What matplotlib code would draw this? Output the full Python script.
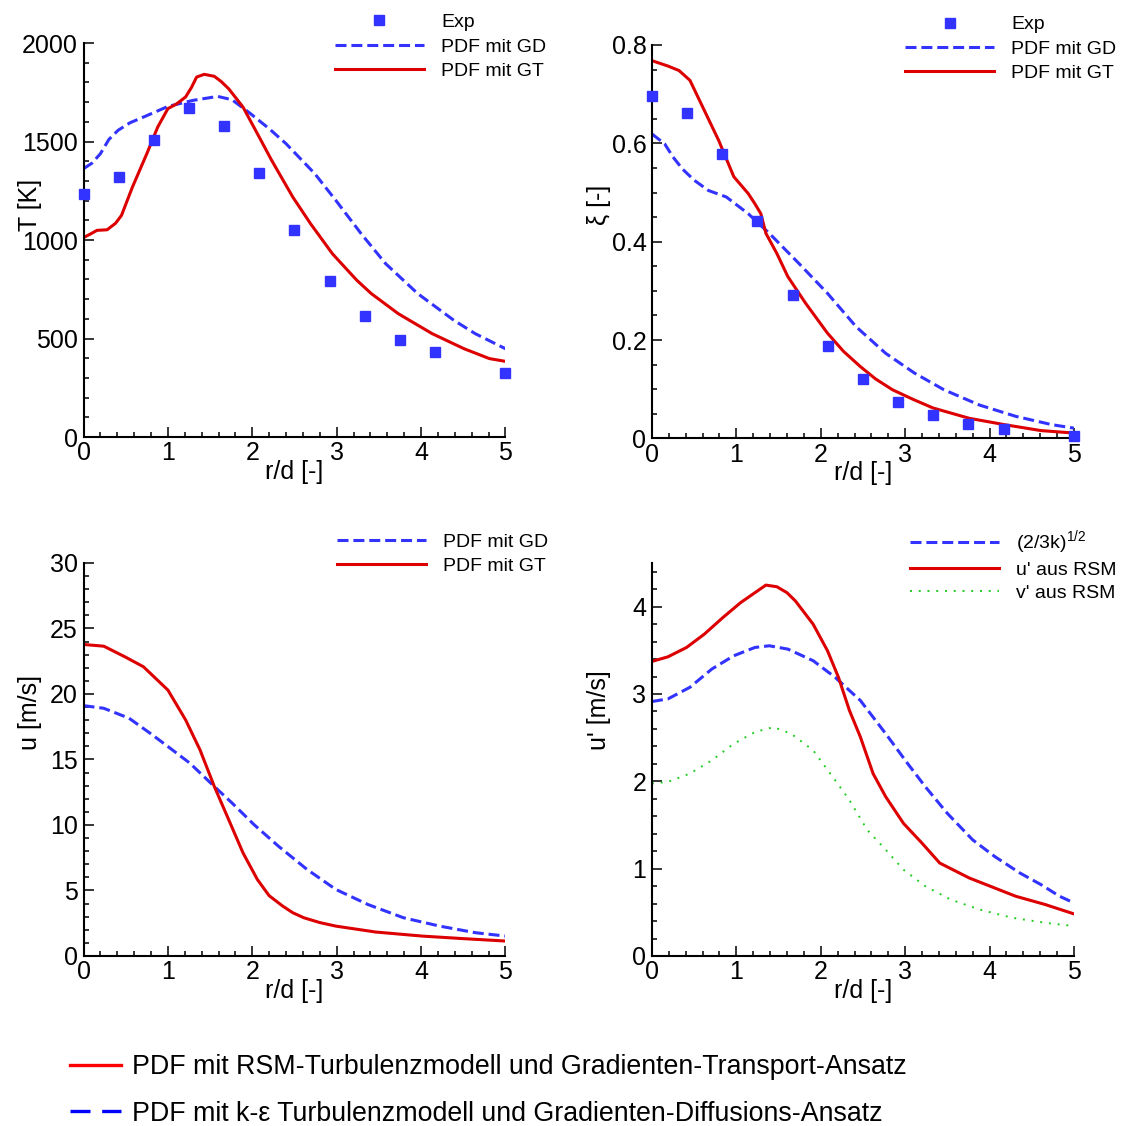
import numpy as np
import matplotlib
matplotlib.use('Agg')
import matplotlib.pyplot as plt
from matplotlib.lines import Line2D
from matplotlib.ticker import MultipleLocator, FuncFormatter

plt.rcParams['font.family'] = ['Liberation Sans', 'DejaVu Sans']
plt.rcParams['mathtext.fontset'] = 'custom'
plt.rcParams['mathtext.rm'] = 'Liberation Sans'

# --- data ---
# temperature
r_exp = [0.0, 0.417, 0.833, 1.25, 1.667, 2.083, 2.5, 2.917, 3.333, 3.75, 4.167, 5.0]
T_exp = [1232, 1322, 1506, 1670, 1579, 1338, 1053, 791, 614, 491, 430, 327]

r_T_gt = [0.0, 0.08, 0.16, 0.28, 0.38, 0.45, 0.58, 0.75, 0.88, 1.0, 1.1, 1.21, 1.28, 1.34,
          1.43, 1.55, 1.63, 1.72, 1.89, 2.06, 2.23, 2.48, 2.69, 2.95, 3.1, 3.24, 3.41,
          3.73, 4.13, 4.51, 4.81, 5.0]
T_gt = [1012, 1030, 1049, 1052, 1085, 1125, 1269, 1438, 1574, 1667, 1690, 1726, 1775,
        1827, 1841, 1831, 1805, 1768, 1675, 1540, 1404, 1218, 1083, 930, 860, 795, 728,
        626, 525, 448, 398, 384]

r_T_gd = [0.0, 0.1, 0.2, 0.3, 0.41, 0.55, 0.71, 1.0, 1.3, 1.59, 1.76, 1.98, 2.2, 2.4,
          2.74, 2.99, 3.29, 3.58, 3.96, 4.39, 4.64, 5.0]
T_gd = [1362, 1390, 1438, 1510, 1557, 1595, 1624, 1678, 1709, 1729, 1712, 1641, 1565,
        1489, 1337, 1201, 1032, 880, 728, 592, 525, 448]

# mixture fraction
xi_exp = [0.697, 0.661, 0.578, 0.443, 0.291, 0.187, 0.121, 0.074, 0.047, 0.029, 0.020, 0.005]

r_xi_gt = [0.0, 0.19, 0.32, 0.45, 0.62, 0.79, 0.97, 1.14, 1.22, 1.29, 1.35, 1.48, 1.61,
           1.82, 2.08, 2.27, 2.47, 2.65, 2.85, 3.1, 3.33, 3.76, 4.18, 4.61, 5.0]
xi_gt = [0.768, 0.757, 0.748, 0.728, 0.667, 0.606, 0.532, 0.498, 0.477, 0.457, 0.417,
         0.376, 0.329, 0.275, 0.214, 0.177, 0.146, 0.121, 0.099, 0.079, 0.062, 0.041,
         0.028, 0.016, 0.011]

r_xi_gd = [0.0, 0.15, 0.25, 0.36, 0.5, 0.67, 0.88, 1.14, 1.39, 1.74, 2.08, 2.42, 2.77,
           3.11, 3.46, 3.88, 4.31, 4.74, 5.0]
xi_gd = [0.619, 0.599, 0.572, 0.548, 0.525, 0.504, 0.491, 0.457, 0.417, 0.356, 0.295,
         0.227, 0.173, 0.133, 0.099, 0.068, 0.045, 0.028, 0.021]

# axial velocity
r_u_gt = [0.0, 0.24, 0.49, 0.71, 1.0, 1.21, 1.38, 1.55, 1.72, 1.89, 2.06, 2.2, 2.36,
          2.48, 2.61, 2.8, 2.99, 3.46, 4.01, 4.51, 5.0]
u_gt = [23.78, 23.65, 22.84, 22.08, 20.30, 18.02, 15.74, 12.94, 10.41, 7.87, 5.84, 4.6,
        3.81, 3.3, 2.92, 2.55, 2.28, 1.83, 1.52, 1.32, 1.14]

r_u_gd = [0.0, 0.24, 0.54, 0.79, 1.0, 1.26, 1.55, 1.76, 2.02, 2.31, 2.65, 2.99, 3.37,
          3.79, 4.22, 4.64, 5.0]
u_gd = [19.11, 18.91, 18.15, 17.0, 15.99, 14.72, 12.94, 11.68, 10.03, 8.38, 6.60, 5.08,
        3.93, 2.92, 2.28, 1.78, 1.52]

# velocity fluctuations
r_up_rsm = [0.0, 0.19, 0.41, 0.62, 0.84, 1.05, 1.22, 1.35, 1.48, 1.60, 1.70, 1.91, 2.08,
            2.21, 2.34, 2.47, 2.62, 2.77, 2.98, 3.20, 3.41, 3.76, 4.06, 4.31, 4.66, 5.0]
up_rsm = [3.373, 3.426, 3.533, 3.685, 3.875, 4.046, 4.16, 4.247, 4.228, 4.16, 4.065,
          3.799, 3.495, 3.191, 2.811, 2.507, 2.089, 1.823, 1.519, 1.292, 1.064, 0.893,
          0.779, 0.684, 0.589, 0.482]

r_k = [0.0, 0.19, 0.45, 0.71, 0.97, 1.22, 1.39, 1.61, 1.91, 2.17, 2.47, 2.77, 3.03, 3.24,
       3.50, 3.80, 4.06, 4.36, 4.61, 4.83, 5.0]
up_k = [2.914, 2.944, 3.077, 3.286, 3.438, 3.533, 3.552, 3.514, 3.381, 3.191, 2.925,
        2.545, 2.203, 1.937, 1.633, 1.330, 1.140, 0.950, 0.817, 0.684, 0.608]

r_vp_rsm = [0.0, 0.19, 0.45, 0.71, 0.97, 1.22, 1.44, 1.65, 1.91, 2.17, 2.34, 2.55, 2.77,
            2.98, 3.24, 3.54, 3.88, 4.27, 4.66, 5.0]
vp_rsm = [1.975, 1.994, 2.089, 2.241, 2.431, 2.564, 2.621, 2.545, 2.355, 2.013, 1.785,
          1.444, 1.216, 0.988, 0.798, 0.646, 0.532, 0.437, 0.380, 0.342]

RED = '#dd0000'
BLUE = '#3333ff'
GREEN = '#22cc22'
LW = 2.2
DASH = (3.6, 1.6)
DOT = (1, 3.5)


def style_axis(ax, ymax, ymajor, yminor):
    ax.set_xlim(0, 5)
    ax.set_ylim(0, ymax)
    ax.spines['top'].set_visible(False)
    ax.spines['right'].set_visible(False)
    for s in ('left', 'bottom'):
        ax.spines[s].set_linewidth(1.5)
    ax.xaxis.set_major_locator(MultipleLocator(1))
    ax.xaxis.set_minor_locator(MultipleLocator(0.2))
    ax.yaxis.set_major_locator(MultipleLocator(ymajor))
    ax.yaxis.set_minor_locator(MultipleLocator(yminor))
    ax.tick_params(which='both', direction='in', labelsize=18, width=1.1)
    ax.tick_params(which='major', length=7, pad=4)
    ax.tick_params(which='minor', length=3.5)
    ax.tick_params(axis='x', pad=3)
    ax.set_xlabel('r/d [-]', fontsize=18)
    ax.xaxis.set_label_coords(0.5, -0.058)


def panel_legend(ax, handles, labels, x, y, spacing=0.35):
    ax.legend(handles, labels, loc='upper left', bbox_to_anchor=(x, y),
              bbox_transform=fig.transFigure, frameon=False, borderpad=0,
              borderaxespad=0, fontsize=14, handlelength=4.6, handletextpad=0.87,
              labelspacing=spacing)


fig = plt.figure(figsize=(11.27, 11.26), dpi=100)
ax1 = fig.add_axes([0.0741, 0.6119, 0.3744, 0.3499])
ax2 = fig.add_axes([0.5785, 0.6106, 0.3744, 0.3495])
ax3 = fig.add_axes([0.0741, 0.1510, 0.3744, 0.3490])
ax4 = fig.add_axes([0.5785, 0.1510, 0.3744, 0.3490])

# T
style_axis(ax1, 2000, 500, 100)
h_exp, = ax1.plot(r_exp, T_exp, 's', color=BLUE, ms=7, clip_on=False, zorder=5)
h_gd, = ax1.plot(r_T_gd, T_gd, color=BLUE, lw=LW, dashes=DASH)
h_gt, = ax1.plot(r_T_gt, T_gt, color=RED, lw=LW)
ax1.set_ylabel('T [K]', fontsize=18)
ax1.yaxis.set_label_coords(-0.098, 0.59)
panel_legend(ax1, [h_exp, h_gd, h_gt], ['Exp', 'PDF mit GD', 'PDF mit GT'], 0.297, 0.988)

# xi
style_axis(ax2, 0.8, 0.2, 0.05)
h_exp, = ax2.plot(r_exp, xi_exp, 's', color=BLUE, ms=7, clip_on=False, zorder=5)
h_gd, = ax2.plot(r_xi_gd, xi_gd, color=BLUE, lw=LW, dashes=DASH)
h_gt, = ax2.plot(r_xi_gt, xi_gt, color=RED, lw=LW)
ax2.yaxis.set_major_formatter(FuncFormatter(lambda v, p: '0' if v == 0 else f'{v:.1f}'))
ax2.set_ylabel('ξ [-]', fontsize=18)
ax2.yaxis.set_label_coords(-0.098, 0.593)
panel_legend(ax2, [h_exp, h_gd, h_gt], ['Exp', 'PDF mit GD', 'PDF mit GT'], 0.803, 0.986)

# u
style_axis(ax3, 30, 5, 1)
h_gd, = ax3.plot(r_u_gd, u_gd, color=BLUE, lw=LW, dashes=DASH)
h_gt, = ax3.plot(r_u_gt, u_gt, color=RED, lw=LW)
ax3.set_ylabel('u [m/s]', fontsize=18)
ax3.yaxis.set_label_coords(-0.098, 0.62)
panel_legend(ax3, [h_gd, h_gt], ['PDF mit GD', 'PDF mit GT'], 0.299, 0.5266)

# u'
style_axis(ax4, 4.5, 1, 0.2)
h_k, = ax4.plot(r_k, up_k, color=BLUE, lw=LW, dashes=DASH)
h_u, = ax4.plot(r_up_rsm, up_rsm, color=RED, lw=LW)
h_v, = ax4.plot(r_vp_rsm, vp_rsm, color=GREEN, lw=1.4, dashes=DOT)
ax4.set_ylabel("u' [m/s]", fontsize=18)
ax4.yaxis.set_label_coords(-0.098, 0.625)
panel_legend(ax4, [h_k, h_u, h_v],
             [r'(2/3k)$^{\mathrm{1/2}}$', "u' aus RSM", "v' aus RSM"], 0.8075, 0.531,
             spacing=0.25)

# common legend at the bottom
bottom_handles = [Line2D([], [], color='#ff0000', lw=2.4),
                  Line2D([], [], color='#0000ff', lw=2.4, dashes=(6, 3.5))]
bottom_labels = ['PDF mit RSM-Turbulenzmodell und Gradienten-Transport-Ansatz',
                 'PDF mit k-ε Turbulenzmodell und Gradienten-Diffusions-Ansatz']
fig.legend(bottom_handles, bottom_labels, loc='upper left', bbox_to_anchor=(0.062, 0.0635),
           frameon=False, borderpad=0, borderaxespad=0, fontsize=19.3,
           handlelength=1.9, handletextpad=0.42, labelspacing=0.76)

fig.savefig('out.png', dpi=100)
